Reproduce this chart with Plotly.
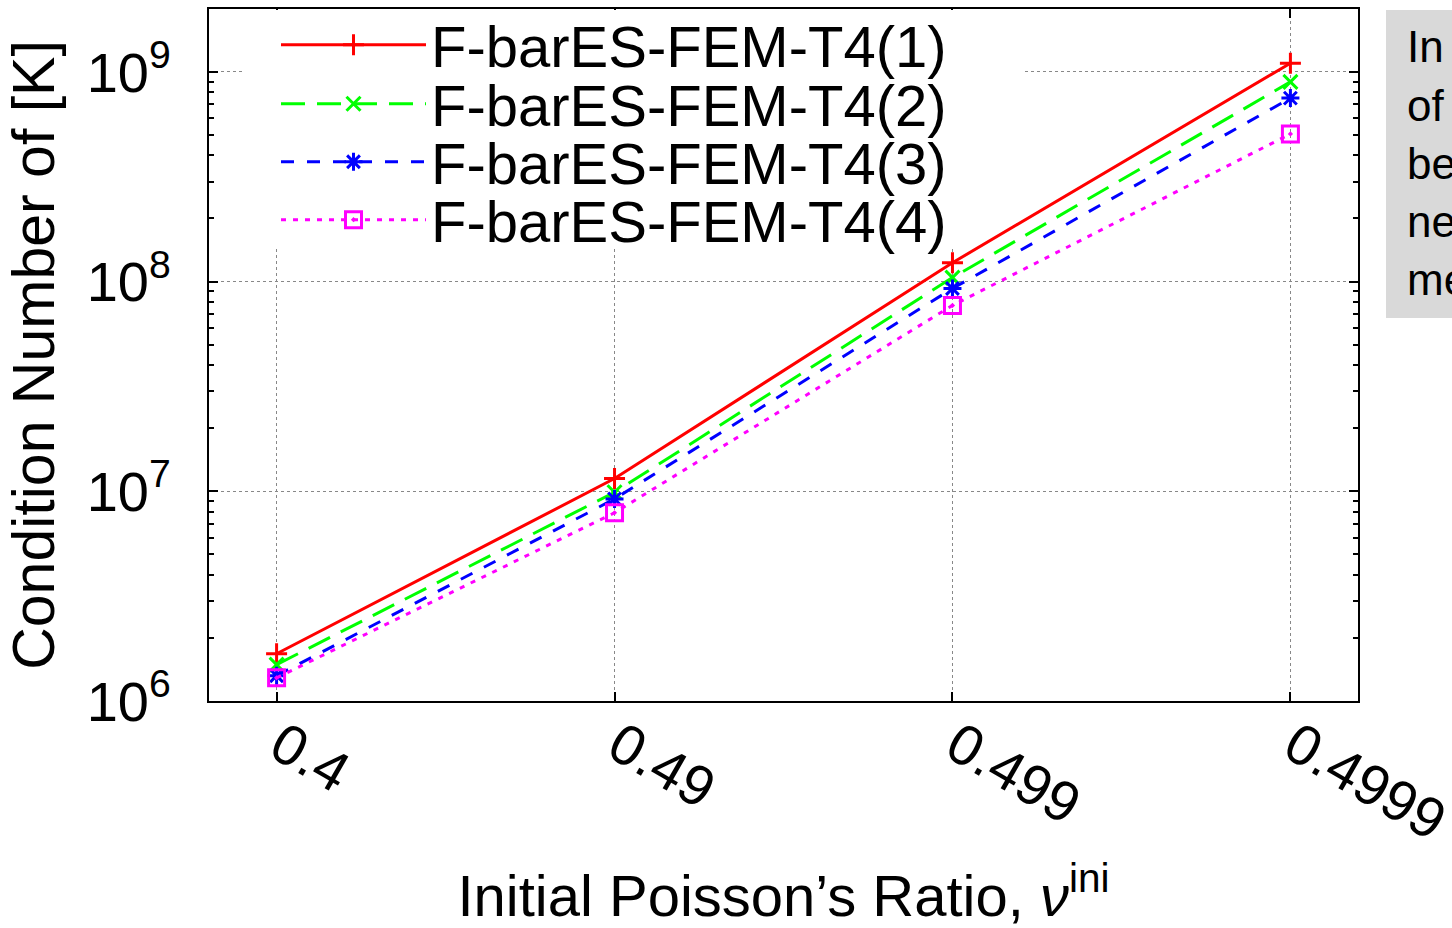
import plotly.graph_objects as go

# ---- data ----
nu_labels = ["0.4", "0.49", "0.499", "0.4999"]
t4_1 = [1.68e6, 1.15e7, 1.23e8, 1.10e9]
t4_2 = [1.49e6, 9.9e6, 1.045e8, 8.96e8]
t4_3 = [1.32e6, 9.2e6, 9.27e7, 7.5e8]
t4_4 = [1.29e6, 7.9e6, 7.7e7, 5.06e8]
series_names = ["F-barES-FEM-T4(1)", "F-barES-FEM-T4(2)", "F-barES-FEM-T4(3)", "F-barES-FEM-T4(4)"]
y_tickvals = [1e6, 1e7, 1e8, 1e9]
y_ticktext = ["10<sup>6</sup>", "10<sup>7</sup>", "10<sup>8</sup>", "10<sup>9</sup>"]
side_text = ["In", "of", "be", "ne", "me"]

FONT = "Liberation Sans, Arial, Helvetica, sans-serif"
W, H = 1452, 928
ML, MR, MT, MB = 209, 94, 9, 227
PW, PH = W - ML - MR, H - MT - MB


def px_x(px):
    return (px - ML) / PW


def px_y(py):
    return (H - MB - py) / PH


styles = [
    dict(color="#ff0000", dash="solid", symbol="cross-thin", size=15),
    dict(color="#00ff00", dash="24px,12px", symbol="x-thin", size=14),
    dict(color="#0000ff", dash="13px,13px", symbol="asterisk", size=15),
    dict(color="#ff00ff", dash="5px,7px", symbol="square-open-dot", size=16),
]

fig = go.Figure()
for i, (name, vals) in enumerate(zip(series_names, [t4_1, t4_2, t4_3, t4_4])):
    s = styles[i]
    fig.add_trace(go.Scatter(
        x=nu_labels, y=vals, name=name, mode="lines+markers",
        line=dict(color=s["color"], width=3, dash=s["dash"]),
        marker=dict(symbol=s["symbol"], size=s["size"], color=s["color"],
                    line=dict(color=s["color"], width=3)),
        legend="legend" if i == 0 else f"legend{i+1}",
        showlegend=True,
    ))

legend_rows = [45, 104, 162, 220]
legend_common = dict(font=dict(family=FONT, size=58, color="black"),
                     bgcolor="rgba(0,0,0,0)", borderwidth=0,
                     xanchor="left", yanchor="middle", itemwidth=145)
layout_legends = {}
for i, row in enumerate(legend_rows):
    key = "legend" if i == 0 else f"legend{i+1}"
    layout_legends[key] = dict(x=px_x(276), y=px_y(row), visible=True, **legend_common)

shapes = [
    # white key boxes over grid
    dict(type="rect", xref="paper", yref="paper", x0=px_x(245), x1=px_x(962),
         y0=px_y(249), y1=px_y(10), fillcolor="white", line=dict(width=0), layer="above"),
    dict(type="rect", xref="paper", yref="paper", x0=px_x(960), x1=px_x(1025),
         y0=px_y(205), y1=px_y(10), fillcolor="white", line=dict(width=0), layer="above"),
    # grey side box
    dict(type="rect", xref="paper", yref="paper", x0=px_x(1386), x1=px_x(1500),
         y0=px_y(318), y1=px_y(10), fillcolor="#d9d9d9", line=dict(width=0), layer="below"),
]

annotations = []
for j, t in enumerate(side_text):
    annotations.append(dict(text=t, xref="paper", yref="paper", x=px_x(1405), y=px_y(47 + 58 * j),
                            xanchor="left", yanchor="middle", showarrow=False,
                            font=dict(family=FONT, size=44, color="black")))

fig.update_layout(
    width=W, height=H, autosize=False, showlegend=True,
    margin=dict(l=ML, r=MR, t=MT, b=MB, pad=0, autoexpand=False),
    paper_bgcolor="white", plot_bgcolor="white",
    font=dict(family=FONT, color="black"),
    shapes=shapes, annotations=annotations,
    **layout_legends,
)

fig.update_xaxes(
    type="category", range=[-0.2, 3.2], automargin=False,
    showline=True, linecolor="black", linewidth=2, mirror="allticks",
    ticks="inside", ticklen=9, tickwidth=2, tickcolor="black",
    showgrid=True, gridcolor="#888888", griddash="dot", gridwidth=1,
    tickangle=30, tickfont=dict(family=FONT, size=57, color="black"),
    ticklabelstandoff=-13, ticklabelshift=4,
    title=dict(text="Initial Poisson’s Ratio, <i>ν</i><sup>ini</sup>",
               font=dict(family=FONT, size=58, color="black"), standoff=42),
    zeroline=False,
)
fig.update_yaxes(
    type="log", range=[6, 9.3], automargin=False,
    tickvals=y_tickvals, ticktext=y_ticktext,
    showline=True, linecolor="black", linewidth=2, mirror="allticks",
    ticks="inside", ticklen=9, tickwidth=2, tickcolor="black",
    minor=dict(ticks="inside", ticklen=5, tickwidth=1.5, tickcolor="black", dtick="D1", showgrid=False),
    showgrid=True, gridcolor="#888888", griddash="dot", gridwidth=1,
    tickfont=dict(family=FONT, size=56, color="black"),
    ticklabelstandoff=25,
    title=dict(text="Condition Number of [K]",
               font=dict(family=FONT, size=59, color="black"), standoff=13),
    zeroline=False,
)

fig.write_html("out.html", config={"displayModeBar": False},
               post_script="document.body.style.margin='0';")
